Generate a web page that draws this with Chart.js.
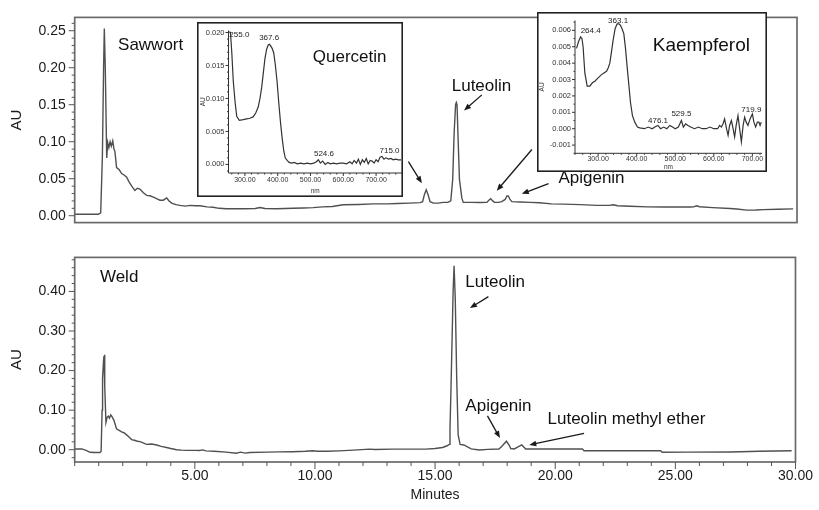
<!DOCTYPE html>
<html>
<head>
<meta charset="utf-8">
<script src="https://cdn.jsdelivr.net/npm/chart.js@4.4.1/dist/chart.umd.min.js"></script>
<style>
  body { margin: 0; background: #fff; }
  #wrap { position: relative; width: 819px; height: 510px; overflow: hidden; }
  #wrap canvas { position: absolute; }
</style>
</head>
<body>
<div id="wrap">
  <canvas id="sawwort" width="819" height="240" style="left:0;top:0"></canvas>
  <canvas id="weld" width="819" height="270" style="left:0;top:240px"></canvas>
  <canvas id="quercetin" width="206" height="175" style="left:197px;top:22px"></canvas>
  <canvas id="kaempferol" width="230" height="160" style="left:537px;top:12px"></canvas>
</div>
<script>
// Sawwort chromatogram (minutes, AU)
const sawTime = [0, 0.5, 0.98, 1.08, 1.15, 1.2, 1.23, 1.27, 1.33, 1.37, 1.42, 1.47, 1.52, 1.58, 1.63, 1.67, 1.74, 1.85, 1.95, 2.05,
  2.16, 2.25, 2.37, 2.5, 2.6, 2.71, 2.85, 2.99, 3.12, 3.27, 3.4, 3.54, 3.68, 3.82, 3.92, 4.03, 4.2, 4.37, 4.6, 4.79,
  5.0, 5.2, 5.5, 5.75, 6.0, 6.3, 7.0, 7.5, 7.7, 7.9, 8.4, 9.07, 9.5, 9.9, 10.3, 10.7, 11.15, 11.8, 12.4, 13.0,
  13.4, 13.9, 14.35, 14.45, 14.52, 14.6, 14.68, 14.76, 14.9, 15.1, 15.31, 15.5, 15.62, 15.7, 15.76, 15.82, 15.85, 15.88, 15.92, 15.98,
  16.08, 16.14, 16.5, 16.8, 17.12, 17.2, 17.28, 17.36, 17.44, 17.6, 17.74, 17.88, 17.95, 18.01, 18.08, 18.16, 18.5, 18.92, 19.3, 19.8,
  20.3, 21.0, 21.69, 22.2, 22.37, 22.55, 23.07, 23.8, 24.45, 25.0, 25.56, 25.7, 25.84, 25.95, 26.5, 27.22, 27.5, 27.92, 28.3, 28.61,
  29.2, 29.84];
const sawAU = [0.002, 0.002, 0.002, 0.004, 0.08, 0.2, 0.253, 0.2, 0.078, 0.099, 0.092, 0.1, 0.094, 0.101, 0.09, 0.087, 0.065, 0.062, 0.057, 0.055,
  0.052, 0.046, 0.04, 0.034, 0.037, 0.036, 0.031, 0.0275, 0.027, 0.025, 0.023, 0.021, 0.021, 0.024, 0.02, 0.017, 0.015, 0.014, 0.013, 0.014,
  0.0135, 0.0135, 0.012, 0.0115, 0.01, 0.0094, 0.0094, 0.0097, 0.011, 0.0098, 0.0094, 0.01, 0.0105, 0.011, 0.012, 0.0125, 0.0148, 0.0152, 0.016, 0.016,
  0.0165, 0.017, 0.0177, 0.019, 0.028, 0.035, 0.028, 0.019, 0.017, 0.017, 0.018, 0.018, 0.02, 0.049, 0.112, 0.15, 0.153, 0.15, 0.108, 0.049,
  0.0237, 0.018, 0.018, 0.0178, 0.018, 0.021, 0.023, 0.02, 0.018, 0.018, 0.019, 0.022, 0.0266, 0.0266, 0.022, 0.019, 0.0185, 0.018, 0.0175, 0.016,
  0.0157, 0.015, 0.014, 0.014, 0.0148, 0.0135, 0.0127, 0.012, 0.0118, 0.0118, 0.0118, 0.012, 0.0135, 0.0122, 0.011, 0.0097, 0.009, 0.0076, 0.0078, 0.0082,
  0.0088, 0.0093];

// Weld chromatogram (minutes, AU)
const weldTime = [0, 0.3, 0.5, 0.64, 0.85, 1.05, 1.1, 1.14, 1.16, 1.2, 1.22, 1.24, 1.26, 1.3, 1.35, 1.4, 1.45, 1.5, 1.54, 1.63,
  1.74, 1.85, 1.95, 2.05, 2.16, 2.25, 2.37, 2.48, 2.58, 2.75, 2.99, 3.2, 3.41, 3.6, 3.82, 4.0, 4.24, 4.45, 4.65, 5.0,
  5.2, 5.34, 5.45, 5.8, 6.3, 6.73, 6.9, 7.1, 7.28, 8.0, 8.5, 9.08, 9.6, 9.91, 10.1, 10.5, 11.0, 11.6, 12.27, 12.5,
  13.24, 14.0, 14.62, 15.0, 15.31, 15.5, 15.59, 15.62, 15.66, 15.7, 15.75, 15.79, 15.84, 15.9, 15.96, 16.04, 16.2, 16.5, 16.84, 17.2,
  17.66, 17.8, 17.97, 18.08, 18.15, 18.3, 18.45, 18.61, 18.77, 19.2, 19.74, 20.5, 21.13, 21.2, 22.0, 23.2, 24.39, 24.45, 25.5, 27.3,
  28.5, 29.84];
const weldAU = [0.0017, 0.002, -0.002, -0.0064, -0.007, -0.007, -0.004, 0.1, 0.181, 0.225, 0.237, 0.24, 0.16, 0.069, 0.082, 0.085, 0.08, 0.088, 0.085, 0.075,
  0.053, 0.049, 0.045, 0.043, 0.0375, 0.033, 0.0256, 0.024, 0.022, 0.02, 0.0136, 0.0145, 0.012, 0.0085, 0.0056, 0.003, 0, -0.001, -0.0016, -0.0016,
  -0.002, -0.0005, -0.003, -0.004, -0.006, -0.0088, -0.006, -0.0085, -0.007, -0.006, -0.0055, -0.005, -0.004, -0.0025, -0.004, -0.004, -0.003, -0.001, 0.0016, 0.0005,
  0.0016, 0.0016, 0.0016, 0.003, 0.0056, 0.01, 0.0136, 0.053, 0.15, 0.26, 0.4, 0.465, 0.38, 0.18, 0.0375, 0.0136, 0.012, 0.002, -0.0008, 0.001,
  0.002, 0.01, 0.0215, 0.012, 0.003, 0.002, 0.007, 0.012, 0.002, 0.002, 0.002, 0.002, 0.002, -0.0024, -0.0024, -0.0024, -0.0024, -0.0064, -0.006, -0.0056,
  -0.004, -0.0024];

// Quercetin UV spectrum (nm, AU)
const quercNm = [252, 256, 260, 264.6, 270, 275, 283, 295, 305, 315, 325, 333, 340.6, 346, 351, 356, 361, 366, 371, 375,
  378, 383, 388, 393, 398, 403, 408.7, 414, 418.7, 423, 428.7, 435, 442, 450, 460, 470, 480, 490, 500, 510,
  518, 524, 530, 537, 545, 553, 560, 570, 580, 590, 600, 610, 620, 627, 633, 640, 646, 652, 658, 664,
  670, 676, 682, 688, 694, 700, 706, 712, 718, 724, 730, 738, 745, 752, 760, 768, 776];
const quercAU = [0.0201, 0.02, 0.017, 0.0126, 0.0095, 0.0073, 0.0067, 0.0068, 0.0069, 0.007, 0.0072, 0.0078, 0.0087, 0.01, 0.0116, 0.0138, 0.016, 0.0174, 0.0181, 0.0182,
  0.018, 0.0176, 0.0169, 0.015, 0.0126, 0.0095, 0.0063, 0.0038, 0.002, 0.001, 0.0006, 0.0003, 0.0002, 0.0003, 0.0001, 0.0002, 0.0001, 0.0002, 0.0001, 0.0002,
  0.0004, 0.0007, 0.0002, 0.0005, 0, 0.0003, 0.0001, 0.0002, 0.0001, 0.0002, 0.0002, 0.0001, 0.0004, 0.0001, 0.0006, 0.0002, 0.0008, 0, 0.0007, 0.0003,
  0.0009, 0.0001, 0.0006, 0.0005, 0.0002, 0.0007, 0.0004, 0.0011, 0.0012, 0.0008, 0.001, 0.0008, 0.0009, 0.0007, 0.0008, 0.0007, 0.0007];

// Kaempferol UV spectrum (nm, AU)
const kaempNm = [244, 249, 254.4, 258, 261, 265.5, 271.5, 278.5, 285, 291.5, 300, 308.8, 315, 321.8, 326, 330.3, 334, 338.9, 344, 349.2,
  354, 358, 362, 366.6, 371, 375.1, 380, 383.9, 389, 395, 402, 408, 420, 430, 440, 447, 455, 462, 470, 478,
  486, 493, 500, 508, 516, 521, 527, 533, 540, 550, 560, 570, 580, 590, 600, 610, 615, 619.6, 624, 628,
  633, 637, 641, 645.6, 650, 654, 658, 662.7, 667, 671.5, 676, 680, 684, 688.6, 694, 700, 704, 708.5, 713, 717,
  720, 723];
const kaempAU = [0.0049, 0.0053, 0.0056, 0.0055, 0.005, 0.0034, 0.0026, 0.0026, 0.0028, 0.0029, 0.0031, 0.0033, 0.0034, 0.0035, 0.0037, 0.004, 0.0046, 0.0054, 0.0061, 0.0064,
  0.0064, 0.0063, 0.0061, 0.0058, 0.0049, 0.0038, 0.0026, 0.0016, 0.0008, 0.0004, 0.0001, 0.00005, 0, 0.0001, 0, 0.0001, 0.0002, 0, 0.0001, 0,
  0.0002, 0.0001, 0, 0.0001, 0.0005, 0.0001, 0.0003, 0.0002, 0.0001, 0, 0.0001, 0, 0, 0.0001, 0, 0, 0.0002, 0.0001, 0.0003, 0.0006,
  0, -0.0004, 0.0002, 0.0005, 0, -0.0005, 0.0002, 0.0008, 0, -0.0008, 0.0002, 0.0007, 0.0004, 0.0002, 0.0006, 0.0009, 0.0004, 0.0001, 0.0004, 0.0004,
  0.0002, 0.0004];

// labelled ticks
const timeTicks = [5, 10, 15, 20, 25, 30];
const sawTicks = [0, 0.05, 0.10, 0.15, 0.20, 0.25];
const weldTicks = [0, 0.10, 0.20, 0.30, 0.40];
const nmTicks = [300, 400, 500, 600, 700];
const quercTicks = [0, 0.005, 0.010, 0.015, 0.020];
const kaempTicks = [-0.001, 0, 0.001, 0.002, 0.003, 0.004, 0.005, 0.006];

// annotations: [text, x, y] and arrows [x1, y1, x2, y2] in data units
const sawNotes = [['Sawwort', 1.80, 0.230], ['Luteolin', 15.66, 0.1755], ['Apigenin', 20.09, 0.0506]];
const sawArrows = [[13.86, 0.073, 14.42, 0.0439], [16.91, 0.1633, 16.17, 0.1423], [18.99, 0.0895, 17.53, 0.0338], [19.68, 0.0435, 18.57, 0.0296]];
const weldNotes = [['Weld', 1.05, 0.436], ['Luteolin', 16.26, 0.424], ['Apigenin', 16.26, 0.109], ['Luteolin methyl ether', 19.68, 0.0773]];
const weldArrows = [[17.22, 0.3868, 16.45, 0.3581], [17.18, 0.0854, 17.70, 0.0294], [21.20, 0.0414, 18.92, 0.012]];
const quercNotes = [['Quercetin', 507, 0.0162]];
const quercPeaks = [['255.0', 283, 0.0197], ['367.6', 374, 0.0192], ['524.6', 541, 0.00154], ['715.0', 741, 0.002]];
const kaempNotes = [['Kaempferol', 441.7, 0.00503]];
const kaempPeaks = [['264.4', 280.6, 0.006], ['363.1', 351.8, 0.0066], ['476.1', 455.4, 0.00051], ['529.5', 516, 0.00092], ['719.9', 697.4, 0.00117]];

const FONT = '"Liberation Sans", Arial, Helvetica, sans-serif';
Chart.defaults.font.family = FONT;
Chart.defaults.color = '#1a1a1a';

const pairs = (xs, ys) => xs.map((x, i) => ({ x: x, y: ys[i] }));
const onList = (v, list) => list.some(k => Math.abs(k - v) < 1e-7);

function arrow(ctx, x1, y1, x2, y2) {
    const a = Math.atan2(y2 - y1, x2 - x1);
    const head = 7, wing = 2.8;
    ctx.beginPath();
    ctx.moveTo(x1, y1);
    ctx.lineTo(x2 - head * 0.7 * Math.cos(a), y2 - head * 0.7 * Math.sin(a));
    ctx.stroke();
    ctx.beginPath();
    ctx.moveTo(x2, y2);
    ctx.lineTo(x2 - head * Math.cos(a) + wing * Math.sin(a), y2 - head * Math.sin(a) - wing * Math.cos(a));
    ctx.lineTo(x2 - head * Math.cos(a) - wing * Math.sin(a), y2 - head * Math.sin(a) + wing * Math.cos(a));
    ctx.closePath();
    ctx.fill();
}

const paper = {
    id: 'paper',
    beforeDraw(chart, args, opts) {
        if (!opts.fill) return;
        const ctx = chart.ctx;
        ctx.save();
        ctx.fillStyle = opts.fill;
        ctx.fillRect(0, 0, chart.width, chart.height);
        ctx.restore();
    }
};

const frame = {
    id: 'frame',
    afterDraw(chart, args, opts) {
        const { ctx, chartArea: a } = chart;
        ctx.save();
        ctx.strokeStyle = opts.color;
        ctx.lineWidth = opts.width;
        if (opts.mode === 'box') {
            ctx.strokeRect(a.left, a.top, a.right - a.left, a.bottom - a.top);
        } else {
            ctx.beginPath();
            ctx.moveTo(a.left, a.top);
            ctx.lineTo(a.left, a.bottom);
            ctx.lineTo(a.right, a.bottom);
            ctx.stroke();
            const h = opts.boxWidth / 2;
            ctx.strokeStyle = opts.boxColor;
            ctx.lineWidth = opts.boxWidth;
            ctx.strokeRect(h, h, chart.width - 2 * h, chart.height - 2 * h);
        }
        ctx.restore();
    }
};

const tickMarks = {
    id: 'tickMarks',
    afterDraw(chart, args, opts) {
        const { ctx, scales } = chart;
        ctx.save();
        ctx.strokeStyle = opts.color;
        ctx.lineWidth = 1;
        ctx.beginPath();
        if (opts.y) {
            const s = scales.y;
            s.ticks.forEach(t => {
                const p = s.getPixelForValue(t.value);
                const len = t.label ? opts.y[0] : opts.y[1];
                ctx.moveTo(s.right - len, p);
                ctx.lineTo(s.right, p);
            });
        }
        if (opts.x) {
            const s = scales.x;
            s.ticks.forEach(t => {
                const p = s.getPixelForValue(t.value);
                const len = t.label ? opts.x[0] : opts.x[1];
                ctx.moveTo(p, s.top);
                ctx.lineTo(p, s.top + len);
            });
        }
        ctx.stroke();
        ctx.restore();
    }
};

const notes = {
    id: 'notes',
    afterDraw(chart, args, opts) {
        const { ctx, scales: { x, y } } = chart;
        ctx.save();
        ctx.fillStyle = '#111';
        ctx.strokeStyle = '#1a1a1a';
        ctx.textBaseline = 'middle';
        ctx.textAlign = 'left';
        ctx.font = opts.size + 'px ' + FONT;
        (opts.texts || []).forEach(n => ctx.fillText(n[0], x.getPixelForValue(n[1]), y.getPixelForValue(n[2])));
        ctx.textAlign = 'center';
        ctx.font = (opts.peakSize || 8) + 'px ' + FONT;
        ctx.fillStyle = '#222';
        (opts.peaks || []).forEach(n => ctx.fillText(n[0], x.getPixelForValue(n[1]), y.getPixelForValue(n[2])));
        ctx.lineWidth = 1.3;
        ctx.fillStyle = '#1a1a1a';
        (opts.arrows || []).forEach(r => arrow(ctx,
            x.getPixelForValue(r[0]), y.getPixelForValue(r[1]),
            x.getPixelForValue(r[2]), y.getPixelForValue(r[3])));
        ctx.restore();
    }
};

const TRACE = '#505050';

function mainChart(id, xs, ys, o) {
    return new Chart(document.getElementById(id), {
        type: 'line',
        data: { datasets: [{ data: pairs(xs, ys), borderColor: TRACE, borderWidth: 1.4, pointRadius: 0, tension: 0 }] },
        options: {
            responsive: false,
            animation: false,
            events: [],
            layout: { padding: o.padding },
            scales: {
                x: o.x,
                y: {
                    type: 'linear',
                    min: o.yMin,
                    max: o.yMax,
                    afterFit: s => { s.width = 74.7; },
                    grid: { display: false, drawTicks: false },
                    border: { display: false },
                    ticks: {
                        stepSize: o.yStep,
                        includeBounds: false,
                        autoSkip: false,
                        padding: 9,
                        color: '#1a1a1a',
                        font: { size: 14 },
                        callback: v => onList(v, o.yTicks) ? v.toFixed(2) : ''
                    },
                    title: { display: true, text: 'AU', color: '#1a1a1a', font: { size: 15 }, padding: { top: 8, bottom: 0 } }
                }
            },
            plugins: {
                legend: { display: false },
                tooltip: { enabled: false },
                frame: { mode: 'box', color: '#6a6a6a', width: 1.7 },
                tickMarks: { color: '#555', y: [6, 3], x: o.xMarks },
                notes: { size: 17, texts: o.texts, arrows: o.arrows }
            }
        },
        plugins: [frame, tickMarks, notes]
    });
}

mainChart('sawwort', sawTime, sawAU, {
    padding: { top: 10, right: 22, bottom: 11, left: 0 },
    x: { type: 'linear', min: 0, max: 30, display: false },
    yMin: -0.0093, yMax: 0.268, yStep: 0.01, yTicks: sawTicks,
    xMarks: null, texts: sawNotes, arrows: sawArrows
});

mainChart('weld', weldTime, weldAU, {
    padding: { top: 6, right: 22, bottom: 0, left: 0 },
    x: {
        type: 'linear', min: 0, max: 30,
        afterFit: s => { s.height = 48; },
        grid: { display: false, drawTicks: false },
        border: { display: false },
        ticks: {
            stepSize: 1, autoSkip: false, maxRotation: 0, padding: 6,
            color: '#1a1a1a', font: { size: 14 },
            callback: v => onList(v, timeTicks) ? v.toFixed(2) : ''
        },
        title: { display: true, text: 'Minutes', color: '#1a1a1a', font: { size: 14 }, padding: { top: 0, bottom: 6 } }
    },
    yMin: -0.031, yMax: 0.486, yStep: 0.02, yTicks: weldTicks,
    xMarks: [7, 4], texts: weldNotes, arrows: weldArrows
});

function insetChart(id, xs, ys, o) {
    return new Chart(document.getElementById(id), {
        type: 'line',
        data: { datasets: [{ data: pairs(xs, ys), borderColor: '#333', borderWidth: 1.2, pointRadius: 0, tension: 0 }] },
        options: {
            responsive: false,
            animation: false,
            events: [],
            layout: { padding: o.padding },
            scales: {
                x: {
                    type: 'linear', min: o.xMin, max: o.xMax,
                    afterFit: s => { s.height = o.xHeight; },
                    grid: { display: false, drawTicks: false },
                    border: { display: false },
                    ticks: {
                        stepSize: 20, includeBounds: false, autoSkip: false, maxRotation: 0,
                        padding: o.xPad, color: '#333', font: { size: 7 },
                        callback: v => onList(v, nmTicks) ? v.toFixed(2) : ''
                    },
                    title: { display: true, text: 'nm', color: '#333', font: { size: 6.5 }, padding: { top: 0, bottom: o.nmPad } }
                },
                y: {
                    type: 'linear', min: o.yMin, max: o.yMax,
                    afterFit: s => { s.width = o.yWidth; },
                    grid: { display: false, drawTicks: false },
                    border: { display: false },
                    ticks: {
                        stepSize: o.yStep, includeBounds: false, autoSkip: false,
                        padding: 4, color: '#333', font: { size: 7.5 },
                        callback: v => onList(v, o.yTicks) ? v.toFixed(3) : ''
                    },
                    title: { display: true, text: 'AU', color: '#333', font: { size: 6.5 }, padding: { top: o.auPad, bottom: 0 } }
                }
            },
            plugins: {
                legend: { display: false },
                tooltip: { enabled: false },
                paper: { fill: '#fff' },
                frame: { mode: 'axes', color: '#333', width: 1, boxColor: '#222', boxWidth: 1.6 },
                tickMarks: { color: '#333', y: [3, 1.5], x: [3, 1.5] },
                notes: { size: o.titleSize, peakSize: 8, texts: o.texts, peaks: o.peaks }
            }
        },
        plugins: [paper, frame, tickMarks, notes]
    });
}

insetChart('quercetin', quercNm, quercAU, {
    padding: { top: 1, right: 1, bottom: 0, left: 0 },
    xMin: 250, xMax: 779, xHeight: 24, xPad: 2.8, nmPad: 1.4,
    yMin: -0.0013, yMax: 0.0203, yStep: 0.001, yWidth: 31.5, yTicks: quercTicks, auPad: 2.4,
    titleSize: 17, texts: quercNotes, peaks: quercPeaks
});

insetChart('kaempferol', kaempNm, kaempAU, {
    padding: { top: 6, right: 5, bottom: 0, left: 0 },
    xMin: 240, xMax: 725, xHeight: 18.7, xPad: 1.5, nmPad: 0.4,
    yMin: -0.0015, yMax: 0.0066, yStep: 0.0005, yWidth: 38, yTicks: kaempTicks, auPad: 1,
    titleSize: 19, texts: kaempNotes, peaks: kaempPeaks
});
</script>
</body>
</html>
